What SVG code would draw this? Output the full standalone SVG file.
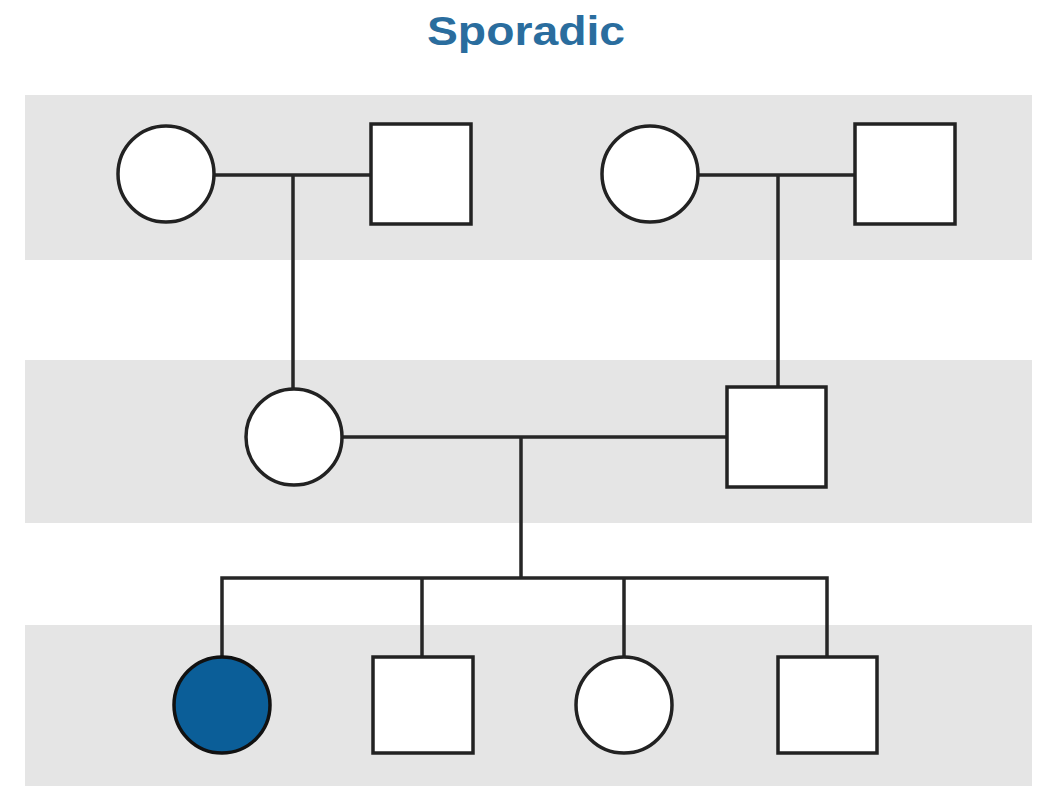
<svg xmlns="http://www.w3.org/2000/svg" width="1040" height="786" viewBox="0 0 1040 786">
<style>
.band{fill:#e5e5e5}
.node{fill:#fff;stroke:#222;stroke-width:3.5}
.aff{fill:#0b5e98;stroke:#111;stroke-width:3.5}
.ln{fill:none;stroke:#262626;stroke-width:3.5}
.title{font-family:"Liberation Sans",Arial,sans-serif;font-weight:bold;font-size:41px;fill:#2a6d9e}
</style>
<rect width="1040" height="786" fill="#fff"/>
<rect class="band" x="25" y="95" width="1007" height="165"/>
<rect class="band" x="25" y="360" width="1007" height="163"/>
<rect class="band" x="25" y="625" width="1007" height="161"/>
<text class="title" x="526" y="45" text-anchor="middle" textLength="198" lengthAdjust="spacingAndGlyphs">Sporadic</text>
<g id="connectors">
<path class="ln" d="M214 175H371M293 175V388"/>
<path class="ln" d="M698 175H855M778 175V387"/>
<path class="ln" d="M342 437H727M521 437V578"/>
<path class="ln" d="M222 657V578H827V657M422 578V657M624 578V657"/>
</g>
<g id="gp1-mother"><circle class="node" cx="166" cy="174" r="48"/></g>
<g id="gp1-father"><rect class="node" x="371" y="124" width="100" height="100"/></g>
<g id="gp2-mother"><circle class="node" cx="650" cy="174" r="48"/></g>
<g id="gp2-father"><rect class="node" x="855" y="124" width="100" height="100"/></g>
<g id="mother"><circle class="node" cx="294" cy="437" r="48"/></g>
<g id="father"><rect class="node" x="727" y="387" width="99" height="100"/></g>
<g id="child1-affected"><circle class="aff" cx="222" cy="705" r="48"/></g>
<g id="child2"><rect class="node" x="373" y="657" width="100" height="96"/></g>
<g id="child3"><circle class="node" cx="624" cy="705" r="48"/></g>
<g id="child4"><rect class="node" x="778" y="657" width="99" height="96"/></g>
</svg>
